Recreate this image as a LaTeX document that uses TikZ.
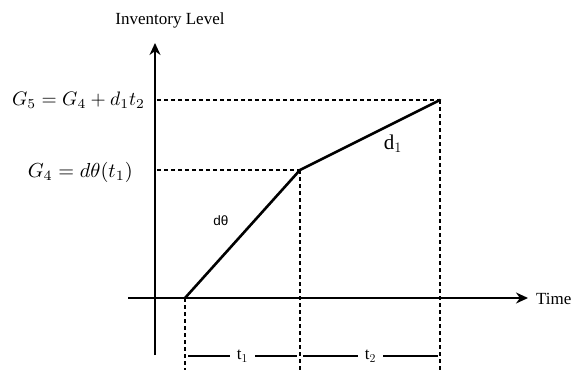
\documentclass[tikz,border=0pt]{standalone}
\usepackage{graphicx}
\usepackage{fontspec}
\setmainfont{Liberation Serif}
\newfontfamily\labelsans{Liberation Sans}
\usetikzlibrary{arrows.meta}
\begin{document}
\begin{tikzpicture}[x=1pt,y=-1pt,
  axis/.style={line width=1.6pt,-{Stealth[length=12pt,width=11pt]}},
  guide/.style={line width=1.2pt,dash pattern=on 4pt off 3pt},
  stock/.style={line width=2.6pt,line cap=round},
  lbl/.style={inner sep=1pt},
  seg/.style={line width=1.1pt}]
\useasboundingbox (0,0) rectangle (571,370);
% key points
\coordinate (O) at (185,298);
\coordinate (K) at (300,170);
\coordinate (E) at (440,100);
\coordinate (yb) at (155,355);
\coordinate (yt) at (155,43);
\coordinate (xl) at (128,298);
\coordinate (xr) at (528,298);
\coordinate (g5a) at (157,100);
\coordinate (g4a) at (157,170);
\coordinate (Ob) at (185,370);
\coordinate (Kb) at (300,370);
\coordinate (Eb) at (440,370);
\coordinate (s1a) at (188,356);
\coordinate (s1b) at (297,356);
\coordinate (s2a) at (303,356);
\coordinate (s2b) at (438,356);
% guides
\draw[guide] (g5a) -- (E);
\draw[guide] (g4a) -- (K);
\draw[guide] (O) -- (Ob);
\draw[guide] (K) -- (Kb);
\draw[guide] (E) -- (Eb);
% axes
\draw[axis] (yb) -- (yt);
\draw[axis] (xl) -- (xr);
% inventory
\draw[stock] (O) -- (K) -- (E);
% labels
\node[lbl,font=\fontsize{17}{19}\selectfont] (inv) at (170,20) {Inventory Level};
\node[lbl,font=\fontsize{17}{19}\selectfont,anchor=west] (time) at (535,299) {Time};
\node[lbl,anchor=east] (g5) at (146,100) {\scalebox{1.95}{$G_5 = G_4 + d_1t_2$}};
\node[lbl,anchor=east] (g4) at (134,172) {\scalebox{2.03}{$G_4 = d\theta(t_1)$}};
\node[lbl,font=\labelsans\fontsize{13.5}{15}\selectfont] (dth) at (221,221) {dθ};
\node[lbl,font=\fontsize{21}{23}\selectfont] (d1) at (393,144) {d$_1$};
\draw[seg] (s1a) -- node[fill=white,inner sep=7pt,font=\fontsize{17}{19}\selectfont] (t1) {t$_1$} (s1b);
\draw[seg] (s2a) -- node[fill=white,inner sep=7pt,font=\fontsize{17}{19}\selectfont] (t2) {t$_2$} (s2b);
\end{tikzpicture}
\end{document}
